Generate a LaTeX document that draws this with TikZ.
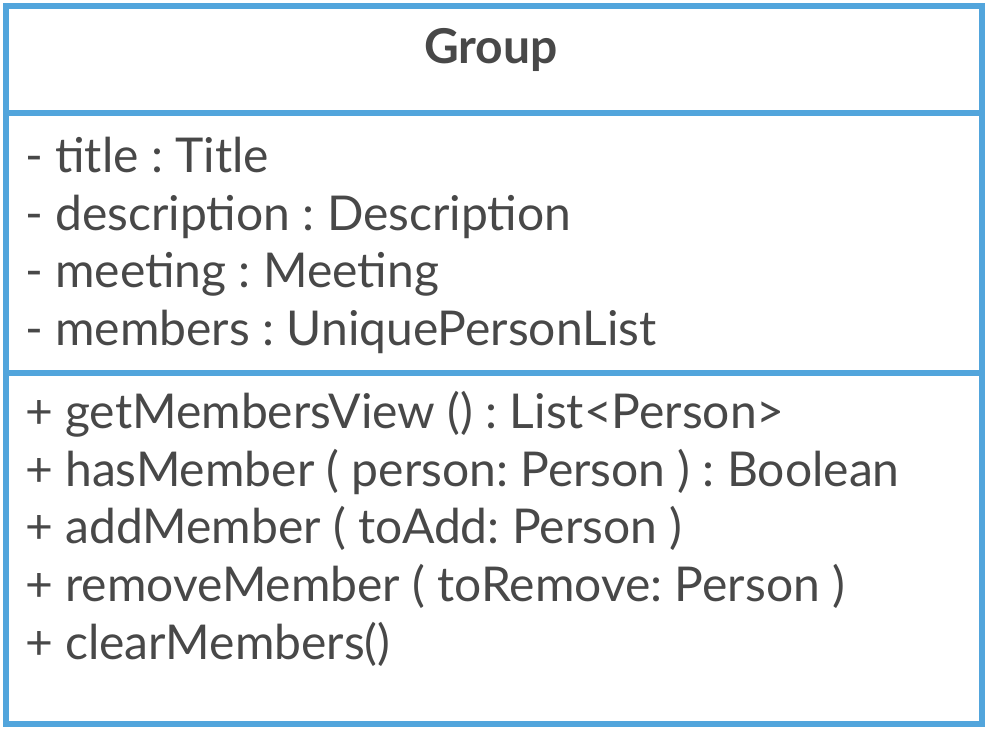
\documentclass[tikz,border=0pt]{standalone}
\usepackage{fontspec}
\setmainfont{Lato}
\frenchspacing
\definecolor{umlblue}{RGB}{82,165,220}
\definecolor{umltext}{RGB}{72,72,72}
\tikzset{
  member/.style={anchor=base west, inner sep=0pt, text=umltext, font=\fontsize{48}{58}\selectfont},
  classname/.style={anchor=base, inner sep=0pt, text=umltext, font=\fontsize{48}{58}\selectfont\bfseries},
  frame/.style={draw=umlblue, line width=6pt},
}
\begin{document}
\begin{tikzpicture}[x=1pt,y=-1pt]
\useasboundingbox (0,0) rectangle (990,734);
\fill[white] (0,0) rectangle (990,734);
\coordinate (tl) at (6,6);
\coordinate (br) at (982,724);
\coordinate (d1l) at (6,113);
\coordinate (d1r) at (982,113);
\coordinate (d2l) at (6,373);
\coordinate (d2r) at (982,373);
\draw[frame] (tl) rectangle (br);
\draw[frame] (d1l) -- (d1r);
\draw[frame] (d2l) -- (d2r);
\node[classname] (name) at (491,63) {Group};
\node[member] (a1) at (25,172) {- title : Title};
\node[member] (a2) at (25,230) {- description : Description};
\node[member] (a3) at (25,287) {- meeting : Meeting};
\node[member] (a4) at (25,345) {- members : UniquePersonList};
\node[member] (m1) at (25,428) {+ getMembersView () : List<Person>};
\node[member] (m2) at (25,486) {+ hasMember ( person: Person ) : Boolean};
\node[member] (m3) at (25,543) {+ addMember ( toAdd: Person )};
\node[member] (m4) at (25,601) {+ removeMember ( toRemove: Person )};
\node[member] (m5) at (25,659) {+ clearMembers()};
\end{tikzpicture}
\end{document}
